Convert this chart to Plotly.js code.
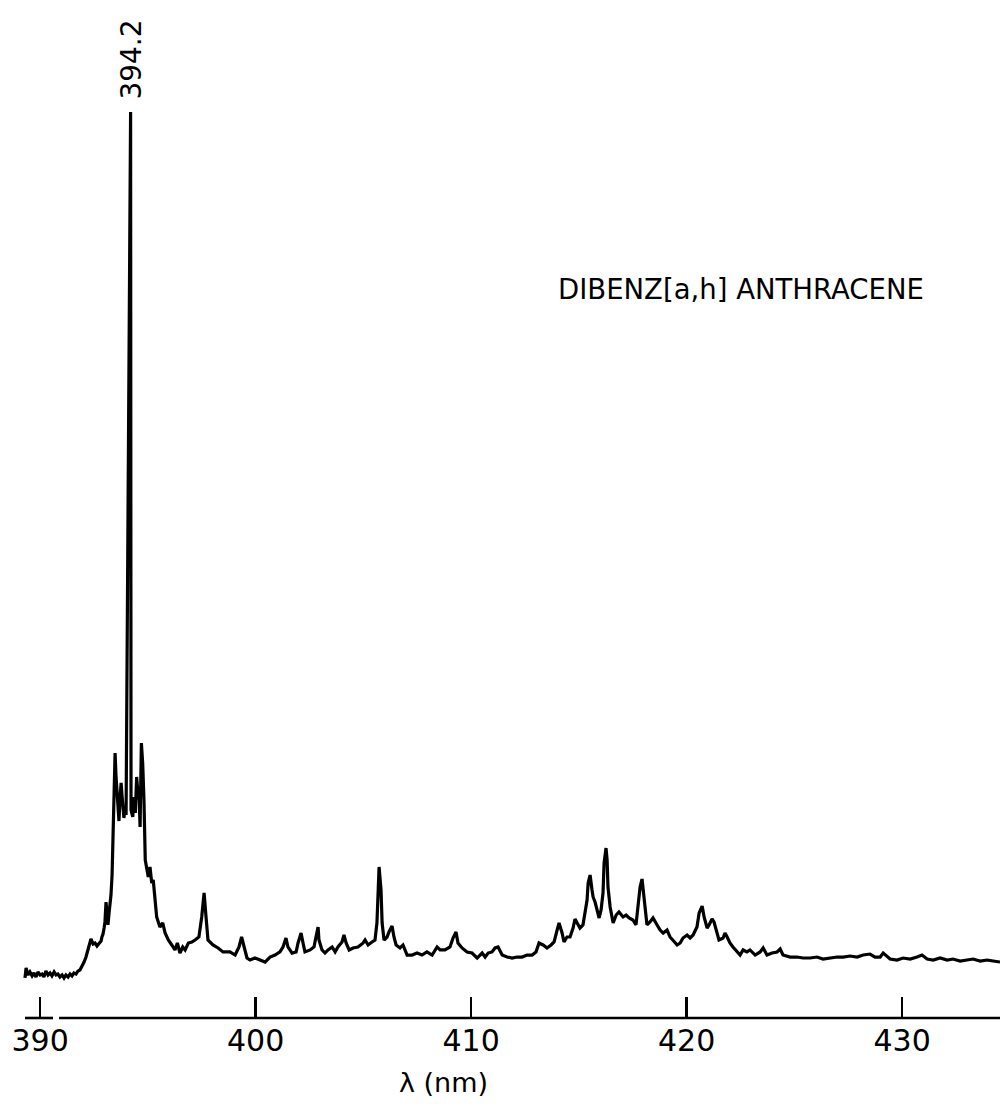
<!DOCTYPE html>
<html>
<head>
<meta charset="utf-8">
<script src="https://cdn.plot.ly/plotly-3.0.1.min.js"></script>
<style>
  html, body { margin: 0; padding: 0; background: #fff; }
  #chart { width: 1000px; height: 1109px; }
</style>
</head>
<body>
<div id="chart"></div>
<script>
// Fluorescence spectrum of dibenz[a,h]anthracene, wavelength (nm) vs. relative intensity
const wavelengthNm = [
  389.30, 389.35, 389.44, 389.53, 389.63, 389.72, 389.81, 389.90, 390.00, 390.09,
  390.18, 390.27, 390.37, 390.46, 390.55, 390.65, 390.74, 390.83, 390.92, 391.02,
  391.11, 391.20, 391.30, 391.39, 391.48, 391.57, 391.67, 391.76, 391.85, 391.95,
  392.04, 392.13, 392.22, 392.32, 392.36, 392.46, 392.55, 392.64, 392.73, 392.83,
  392.87, 392.92, 392.97, 393.01, 393.06, 393.11, 393.15, 393.20, 393.24, 393.29,
  393.34, 393.38, 393.43, 393.48, 393.52, 393.57, 393.62, 393.66, 393.71, 393.76,
  393.80, 393.85, 393.89, 393.94, 393.99, 394.20, 394.22, 394.30, 394.36, 394.42,
  394.48, 394.54, 394.60, 394.64, 394.70, 394.76, 394.82, 394.88, 394.95, 395.02,
  395.10, 395.18, 395.25, 395.33, 395.41, 395.56, 395.69, 395.80, 395.95, 396.11,
  396.26, 396.37, 396.49, 396.62, 396.73, 396.88, 397.04, 397.19, 397.37, 397.50,
  397.61, 397.70, 397.79, 398.02, 398.26, 398.49, 398.81, 399.05, 399.23, 399.35,
  399.46, 399.60, 399.74, 399.97, 400.21, 400.44, 400.67, 400.90, 401.13, 401.27,
  401.41, 401.50, 401.69, 401.88, 401.97, 402.11, 402.20, 402.29, 402.53, 402.71,
  402.80, 402.90, 402.94, 403.08, 403.22, 403.36, 403.55, 403.69, 403.82, 404.01,
  404.10, 404.20, 404.34, 404.52, 404.75, 404.99, 405.08, 405.22, 405.40, 405.54,
  405.63, 405.68, 405.73, 405.82, 405.87, 405.96, 406.10, 406.19, 406.33, 406.42,
  406.52, 406.70, 406.84, 407.03, 407.26, 407.49, 407.72, 407.95, 408.19, 408.42,
  408.56, 408.79, 409.02, 409.16, 409.30, 409.39, 409.58, 409.81, 410.04, 410.28,
  410.51, 410.65, 410.79, 410.97, 411.11, 411.25, 411.44, 411.67, 411.90, 412.13,
  412.36, 412.60, 412.83, 413.01, 413.15, 413.34, 413.52, 413.71, 413.85, 413.99,
  414.08, 414.22, 414.31, 414.45, 414.59, 414.73, 414.82, 414.92, 415.05, 415.19,
  415.29, 415.38, 415.43, 415.52, 415.61, 415.66, 415.75, 415.84, 415.94, 416.03,
  416.12, 416.17, 416.26, 416.31, 416.35, 416.45, 416.54, 416.59, 416.73, 416.86,
  417.05, 417.19, 417.33, 417.51, 417.65, 417.75, 417.84, 417.93, 417.98, 418.07,
  418.16, 418.30, 418.44, 418.63, 418.77, 418.91, 419.09, 419.23, 419.37, 419.56,
  419.70, 419.83, 420.02, 420.16, 420.30, 420.48, 420.58, 420.72, 420.81, 420.95,
  421.04, 421.18, 421.27, 421.41, 421.50, 421.69, 421.78, 421.88, 422.01, 422.15,
  422.34, 422.48, 422.62, 422.80, 422.94, 423.18, 423.41, 423.55, 423.73, 423.96,
  424.20, 424.34, 424.47, 424.80, 425.12, 425.40, 425.73, 426.05, 426.33, 426.66,
  426.98, 427.26, 427.58, 427.91, 428.19, 428.51, 428.74, 428.98, 429.12, 429.44,
  429.76, 430.04, 430.37, 430.69, 430.92, 431.16, 431.44, 431.76, 432.09, 432.36,
  432.69, 433.01, 433.29, 433.62, 433.94, 434.22, 434.54
];

const intensity = [
  4.42, 5.52, 4.75, 5.08, 4.64, 4.97, 4.53, 5.08, 4.75, 4.86,
  4.53, 5.19, 4.75, 4.97, 4.64, 5.08, 4.75, 4.86, 4.53, 4.75,
  4.42, 4.75, 4.53, 4.86, 4.64, 4.97, 4.86, 5.19, 5.30, 5.74,
  6.18, 6.73, 7.51, 8.39, 8.72, 8.17, 8.28, 7.95, 8.17, 8.50,
  8.94, 9.27, 9.93, 10.60, 12.80, 11.04, 10.27, 11.59, 12.36, 13.58,
  15.78, 20.75, 25.72, 29.25, 26.82, 24.61, 22.41, 21.74, 24.28, 25.94,
  24.61, 22.96, 22.08, 23.18, 22.41, 100.0, 22.96, 22.19, 24.39, 22.63,
  26.60, 24.84, 24.06, 21.08, 30.35, 28.15, 24.06, 17.44, 16.34, 15.56,
  16.67, 14.90, 15.23, 13.02, 11.15, 10.04, 10.49, 9.38, 8.61, 8.06,
  7.51, 8.28, 7.17, 7.84, 7.51, 8.28, 8.39, 8.61, 8.94, 11.15,
  13.80, 11.15, 8.61, 8.06, 7.73, 7.29, 7.29, 6.95, 7.84, 8.94,
  7.84, 6.62, 6.40, 6.62, 6.40, 6.18, 6.73, 6.95, 7.29, 7.84,
  8.83, 7.84, 7.17, 7.29, 8.28, 9.38, 8.28, 7.29, 7.51, 7.84,
  8.94, 10.04, 8.61, 7.51, 7.17, 7.51, 7.84, 7.29, 7.84, 8.39,
  9.16, 8.28, 7.51, 7.73, 7.84, 8.28, 8.61, 8.06, 8.39, 8.61,
  10.49, 14.13, 16.67, 14.13, 10.49, 8.61, 8.94, 9.49, 10.15, 8.94,
  8.06, 7.73, 8.06, 6.95, 6.95, 7.17, 6.95, 7.29, 6.95, 7.84,
  7.51, 7.51, 7.84, 8.83, 9.49, 8.28, 7.73, 7.29, 7.17, 6.62,
  7.17, 6.73, 7.17, 7.29, 7.73, 7.84, 6.95, 6.73, 6.62, 6.73,
  6.73, 6.95, 6.95, 7.29, 8.28, 8.06, 7.73, 8.06, 8.39, 9.71,
  10.49, 9.38, 8.39, 8.94, 8.94, 9.93, 10.93, 10.49, 9.93, 10.27,
  11.92, 13.02, 14.90, 15.78, 14.13, 13.36, 12.80, 11.92, 11.04, 11.92,
  13.80, 17.11, 18.76, 17.44, 14.46, 12.25, 10.82, 10.49, 11.37, 11.70,
  11.15, 11.37, 11.04, 10.82, 10.27, 12.25, 14.46, 15.34, 14.13, 12.25,
  10.27, 10.60, 11.04, 10.27, 9.71, 9.38, 9.71, 8.94, 8.61, 8.06,
  8.28, 8.83, 9.16, 8.83, 9.16, 10.04, 11.59, 12.36, 11.15, 9.93,
  10.27, 10.93, 10.60, 9.49, 8.61, 8.83, 9.38, 8.94, 8.28, 7.84,
  7.29, 6.95, 7.51, 7.29, 7.51, 6.95, 7.29, 7.73, 6.95, 7.17,
  7.29, 7.62, 6.95, 6.73, 6.73, 6.62, 6.62, 6.73, 6.51, 6.62,
  6.73, 6.73, 6.84, 6.73, 6.95, 7.06, 6.73, 6.73, 7.17, 6.51,
  6.40, 6.62, 6.51, 6.73, 6.95, 6.51, 6.40, 6.62, 6.40, 6.51,
  6.29, 6.40, 6.51, 6.29, 6.40, 6.29, 6.18
];

const tickValues = [390, 400, 410, 420, 430];
const tickLabels = ['390', '400', '410', '420', '430'];
const peakWavelength = 394.2;
const peakLabel = '394.2';
const compoundName = 'DIBENZ[a,h] ANTHRACENE';
const axisTitle = 'λ (nm)';

const FONT = 'DejaVu Sans, Liberation Sans, sans-serif';

const trace = {
  x: wavelengthNm,
  y: intensity,
  type: 'scatter',
  mode: 'lines',
  line: { color: '#000', width: 3.2 },
  cliponaxis: false,
  hoverinfo: 'x+y'
};

const layout = {
  width: 1000,
  height: 1109,
  margin: { l: 0, r: 0, t: 112, b: 91, pad: 0 },
  paper_bgcolor: '#fff',
  plot_bgcolor: '#fff',
  showlegend: false,
  xaxis: {
    range: [388.14, 434.54],
    tickmode: 'array',
    tickvals: tickValues,
    ticktext: tickLabels,
    ticks: 'inside',
    ticklen: 21,
    tickwidth: 2.4,
    tickcolor: '#000',
    showline: false,
    showgrid: false,
    zeroline: false,
    ticklabelstandoff: 2,
    tickfont: { family: FONT, size: 30, color: '#000' }
  },
  yaxis: {
    range: [0, 100],
    visible: false,
    showgrid: false,
    zeroline: false
  },
  // baseline of the wavelength axis, broken just right of 390 nm
  shapes: [
    { type: 'line', xref: 'x', yref: 'paper', x0: 389.30, x1: 390.60, y0: 0, y1: 0,
      line: { color: '#000', width: 2.6 } },
    { type: 'line', xref: 'x', yref: 'paper', x0: 390.88, x1: 434.54, y0: 0, y1: 0,
      line: { color: '#000', width: 2.6 } }
  ],
  annotations: [
    {
      x: peakWavelength, y: 100, xref: 'x', yref: 'y',
      text: peakLabel, showarrow: false, textangle: -90,
      xanchor: 'center', yanchor: 'bottom', yshift: 10,
      font: { family: FONT, size: 28, color: '#000' }
    },
    {
      x: 0.741, y: 0.8046, xref: 'paper', yref: 'paper',
      text: compoundName, showarrow: false,
      xanchor: 'center', yanchor: 'middle',
      font: { family: FONT, size: 27.5, color: '#000' }
    },
    {
      x: 0.443, y: -0.0717, xref: 'paper', yref: 'paper',
      text: axisTitle, showarrow: false,
      xanchor: 'center', yanchor: 'middle',
      font: { family: FONT, size: 27, color: '#000' }
    }
  ]
};

Plotly.newPlot('chart', [trace], layout, { staticPlot: true, displayModeBar: false });
</script>
</body>
</html>
